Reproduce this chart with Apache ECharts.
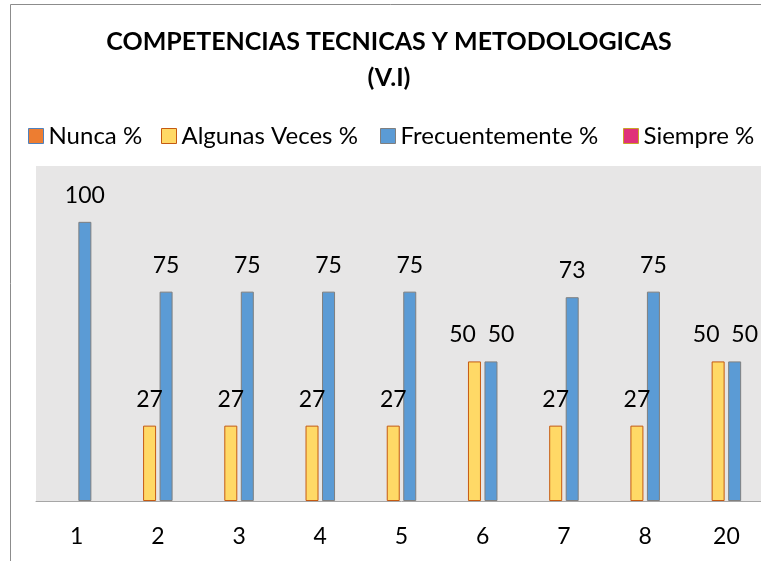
<!DOCTYPE html>
<html>
<head>
<meta charset="utf-8">
<script src="https://cdn.jsdelivr.net/npm/echarts@6/dist/echarts.min.js"></script>
<style>
  html, body { margin: 0; padding: 0; background: #fff; overflow: hidden; }
  #chart { width: 770px; height: 561px; }
</style>
</head>
<body>
<div id="chart"></div>
<script>
// datos
var categorias = ['1', '2', '3', '4', '5', '6', '7', '8', '20'];
var nunca = [0, 0, 0, 0, 0, 0, 0, 0, 0];
var algunasVeces = [0, 27, 27, 27, 27, 50, 27, 27, 50];
var frecuentemente = [100, 75, 75, 75, 75, 50, 73, 75, 50];
var siempre = [0, 0, 0, 0, 0, 0, 0, 0, 0];
var nombres = ['Nunca %', 'Algunas Veces %', 'Frecuentemente %', 'Siempre %'];

var fuente = 'Lato';
var colores = ['#ed7d31', '#ffd966', '#5b9bd5', '#e0307a'];
var bordes = ['#4f81bd', '#c55a11', '#7f7f7f', '#c9a227'];
var myChart = echarts.init(document.getElementById('chart'));

// separa las etiquetas cuando dos barras vecinas tienen casi la misma altura
function separar(i) {
    return function (p) {
        var k = p.dataIndex;
        if (Math.abs(algunasVeces[k] - frecuentemente[k]) < 10) {
            return { dx: i == 1 ? -12 : 10 };
        }
        return {};
    };
}

function serie(i, datos) {
    return {
        name: nombres[i],
        type: 'bar',
        // sin borde en las barras de valor cero
        data: datos.map(function (v) {
            return v ? v : { value: v, itemStyle: { borderWidth: 0 } };
        }),
        barWidth: 13,
        barGap: '27%',
        itemStyle: { color: colores[i], borderColor: bordes[i], borderWidth: 1 },
        labelLayout: separar(i),
        label: {
            show: true,
            position: 'top',
            distance: 15,
            fontFamily: fuente,
            fontSize: 23,
            color: '#000',
            formatter: function (p) { return p.value ? p.value : ''; }
        }
    };
}

// una leyenda por elemento para fijar su posicion
var posLeyenda = [28, 161, 380, 623];
var leyendas = nombres.map(function (n, i) {
    return {
        data: [{ name: n, itemStyle: { color: colores[i], borderColor: bordes[i], borderWidth: 1 } }],
        left: posLeyenda[i],
        top: 124,
        padding: 0,
        itemWidth: 15,
        itemHeight: 15,
        icon: 'rect',
        selectedMode: false,
        textStyle: { fontFamily: fuente, fontSize: 24, color: '#000' }
    };
});

var option = {
    backgroundColor: '#fff',
    animation: false,
    title: {
        text: 'COMPETENCIAS TECNICAS Y METODOLOGICAS\n(V.I)',
        left: 384,
        textAlign: 'center',
        top: 19,
        textStyle: {
            fontFamily: fuente,
            fontWeight: 'bold',
            fontSize: 25,
            lineHeight: 36,
            color: '#000'
        }
    },
    legend: leyendas,
    grid: { left: 36, right: 3, top: 166, bottom: 60, containLabel: false },
    graphic: [{
        type: 'rect',
        shape: { x: 10.5, y: 4.5, width: 800, height: 600 },
        style: { fill: 'none', stroke: '#8c8c8c', lineWidth: 1 },
        silent: true
    }],
    xAxis: {
        type: 'category',
        data: categorias,
        axisLine: { lineStyle: { color: '#a6a6a6', width: 1 } },
        axisTick: { show: false },
        axisLabel: { fontFamily: fuente, fontSize: 23, color: '#000', margin: 24 }
    },
    yAxis: {
        type: 'value',
        min: 0,
        max: 120,
        interval: 20,
        axisLine: { show: false },
        axisTick: { show: false },
        axisLabel: { show: false },
        splitLine: { show: false },
        splitArea: { show: true, areaStyle: { color: ['#e7e6e6'] } }
    },
    series: [
        serie(0, nunca),
        serie(1, algunasVeces),
        serie(2, frecuentemente),
        serie(3, siempre)
    ]
};

myChart.setOption(option);
</script>
</body>
</html>
